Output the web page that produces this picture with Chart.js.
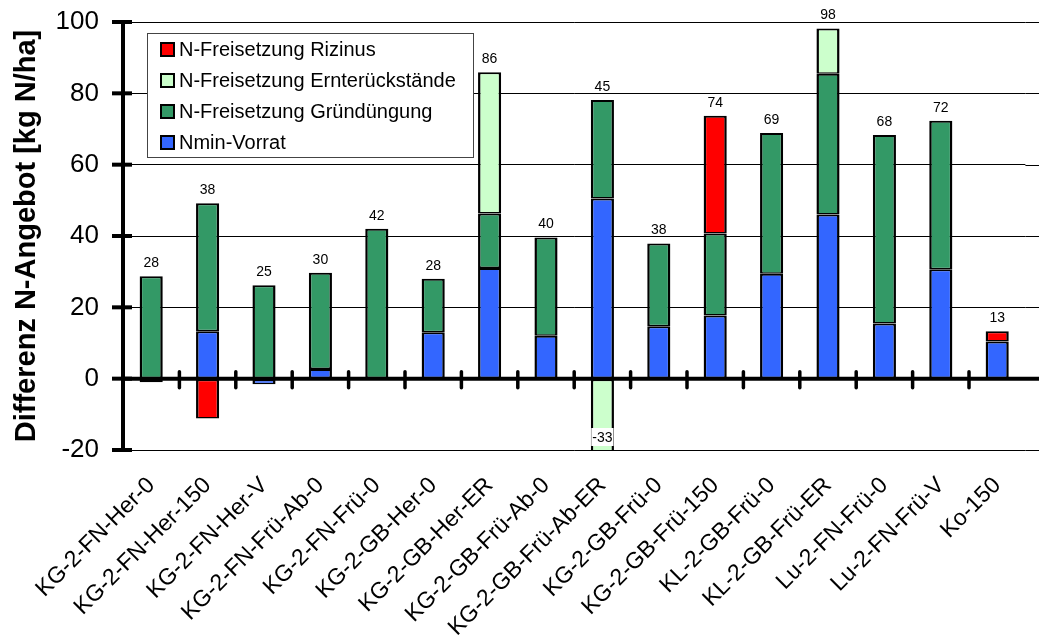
<!DOCTYPE html>
<html>
<head>
<meta charset="utf-8">
<script src="https://cdn.jsdelivr.net/npm/chart.js@4.4.0/dist/chart.umd.min.js"></script>
<style>
html, body { margin: 0; padding: 0; background: #fff; }
#wrap { width: 1039px; height: 639px; }
</style>
</head>
<body>
<div id="wrap"><canvas id="grafico-n"></canvas></div>
<script>
const kategorien = ['KG-2-FN-Her-0', 'KG-2-FN-Her-150', 'KG-2-FN-Her-V', 'KG-2-FN-Frü-Ab-0',
    'KG-2-FN-Frü-0', 'KG-2-GB-Her-0', 'KG-2-GB-Her-ER', 'KG-2-GB-Frü-Ab-0', 'KG-2-GB-Frü-Ab-ER',
    'KG-2-GB-Frü-0', 'KG-2-GB-Frü-150', 'KL-2-GB-Frü-0', 'KL-2-GB-Frü-ER', 'Lu-2-FN-Frü-0',
    'Lu-2-FN-Frü-V', 'Ko-150'];
const nminVorrat        = [-1, 13.3, -1.6, 2.7, null, 13, 31, 12, 50.5, 14.7, 17.7, 29.4, 46, 15.5, 30.7, 10.4];
const gruenduengung     = [28.7, 35.9, 26.2, 27, 42, 15, 15.3, 27.6, 27.6, 23.2, 23, 39.5, 39.5, 52.8, 41.6, null];
const ernterueckstaende = [null, null, null, null, null, null, 39.6, null, -33, null, null, null, 12.7, null, null, null];
const rizinus           = [null, -11.2, null, null, null, null, null, null, null, null, 33, null, null, null, null, 2.9];
const yMin = -20, yMax = 100, yStep = 20;

const schrift = '"Liberation Sans", Arial, sans-serif';

// Achsen, Nulllinie und Teilstriche wie im Original
const achsenPlugin = {
    id: 'achsen',
    beforeDatasetsDraw(chart) {
        const ctx = chart.ctx, y = chart.scales.y, a = chart.chartArea;
        ctx.save();
        ctx.strokeStyle = '#000';
        ctx.lineWidth = 1;
        y.ticks.forEach(function(t) {
            const py = Math.round(y.getPixelForValue(t.value)) + 0.5;
            ctx.beginPath();
            ctx.moveTo(a.right, py);
            ctx.lineTo(chart.width, py);
            ctx.stroke();
        });
        ctx.restore();
    },
    afterDatasetsDraw(chart) {
        const ctx = chart.ctx, x = chart.scales.x, y = chart.scales.y, a = chart.chartArea;
        const y0 = y.getPixelForValue(0);
        ctx.save();
        ctx.strokeStyle = '#000';
        // y-Achse
        ctx.lineWidth = 4;
        ctx.beginPath();
        ctx.moveTo(a.left, a.top - 2);
        ctx.lineTo(a.left, a.bottom + 2);
        ctx.stroke();
        // Nulllinie
        ctx.beginPath();
        ctx.moveTo(a.left, y0);
        ctx.lineTo(chart.width, y0);
        ctx.stroke();
        ctx.lineCap = 'round';
        ctx.lineWidth = 3.5;
        for (let i = 1; i < kategorien.length; i++) {
            const px = (x.getPixelForValue(i - 1) + x.getPixelForValue(i)) / 2;
            ctx.beginPath();
            ctx.moveTo(px, y0 - 7);
            ctx.lineTo(px, y0 + 9);
            ctx.stroke();
        }
        ctx.lineCap = 'butt';
        ctx.lineWidth = 4;
        y.ticks.forEach(function(t) {
            const py = y.getPixelForValue(t.value);
            ctx.beginPath();
            ctx.moveTo(a.left - 11, py);
            ctx.lineTo(a.left + 9, py);
            ctx.stroke();
        });

        // Summenwerte über den Säulen
        ctx.fillStyle = '#000';
        ctx.font = '14px ' + schrift;
        ctx.textAlign = 'center';
        ctx.textBaseline = 'alphabetic';
        kategorien.forEach(function(k, i) {
            let summe = 0, positiv = 0;
            chart.data.datasets.forEach(function(ds) {
                const v = ds.data[i] || 0;
                summe += v;
                if (v > 0) positiv += v;
            });
            const px = x.getPixelForValue(i);
            ctx.fillText(String(Math.round(summe)), px, y.getPixelForValue(positiv) - 9);
        });

        // abgeschnittene Segmente unten beschriften
        ctx.textBaseline = 'middle';
        chart.data.datasets.forEach(function(ds, di) {
            const meta = chart.getDatasetMeta(di);
            meta.data.forEach(function(el, i) {
                const v = ds.data[i];
                if (v !== null && v < 0 && Math.max(el.y, el.base) > a.bottom) {
                    const txt = String(Math.round(v));
                    const w = ctx.measureText(txt).width + 2;
                    const cy = a.bottom - 13;
                    ctx.fillStyle = '#fff';
                    ctx.fillRect(el.x - w / 2, cy - 9, w, 18);
                    ctx.fillStyle = '#000';
                    ctx.fillText(txt, el.x, cy + 1);
                }
            });
        });
        ctx.restore();
    },
    afterDraw(chart) {
        // Legende im Diagramm
        const ctx = chart.ctx, a = chart.chartArea;
        const bx = a.left + 24, by = a.top + 11, bw = 326, bh = 124;
        ctx.save();
        ctx.fillStyle = '#fff';
        ctx.fillRect(bx, by, bw, bh);
        ctx.strokeStyle = '#444';
        ctx.lineWidth = 1;
        ctx.strokeRect(bx + 0.5, by + 0.5, bw, bh);
        ctx.font = '20px ' + schrift;
        ctx.textBaseline = 'middle';
        ctx.textAlign = 'left';
        const ds = chart.data.datasets.slice().reverse();
        ds.forEach(function(d, i) {
            const cy = by + 16.5 + i * 31;
            ctx.fillStyle = d.backgroundColor;
            ctx.fillRect(bx + 14, cy - 6.5, 13, 13);
            ctx.strokeStyle = '#000';
            ctx.lineWidth = 2;
            ctx.strokeRect(bx + 14, cy - 6.5, 13, 13);
            ctx.fillStyle = '#000';
            ctx.fillText(d.label, bx + 32, cy + 1);
        });
        ctx.restore();
    }
};

function serie(label, data, farbe) {
    return {
        label: label,
        data: data,
        backgroundColor: farbe,
        borderColor: '#000',
        borderWidth: { top: 2, bottom: 1.5, left: 2.5, right: 2.5 },
        borderSkipped: false,
        categoryPercentage: 1,
        barPercentage: 0.41
    };
}

const ctx = document.getElementById('grafico-n').getContext('2d');
const grafico = new Chart(ctx, {
    type: 'bar',
    data: {
        labels: kategorien,
        datasets: [
            serie('Nmin-Vorrat', nminVorrat, '#3366FF'),
            serie('N-Freisetzung Gründüngung', gruenduengung, '#339966'),
            serie('N-Freisetzung Ernterückstände', ernterueckstaende, '#CCFFCC'),
            serie('N-Freisetzung Rizinus', rizinus, '#FF0000')
        ]
    },
    options: {
        responsive: true,
        maintainAspectRatio: false,
        devicePixelRatio: 1,
        animation: false,
        layout: { padding: { top: 22, right: 9, left: 0, bottom: 0 } },
        plugins: {
            legend: { display: false },
            tooltip: { enabled: false }
        },
        scales: {
            x: {
                stacked: true,
                grid: { display: false, drawTicks: false },
                border: { display: false },
                ticks: {
                    autoSkip: false,
                    maxRotation: 45,
                    minRotation: 45,
                    padding: 22,
                    color: '#000',
                    font: { family: schrift, size: 23 }
                },
                afterFit: function(s) { s.height = 189; }
            },
            y: {
                stacked: true,
                min: yMin,
                max: yMax,
                ticks: {
                    stepSize: yStep,
                    padding: 24,
                    color: '#000',
                    font: { family: schrift, size: 26 }
                },
                grid: { color: '#000', lineWidth: 1, drawTicks: false },
                border: { display: false },
                title: {
                    display: true,
                    text: 'Differenz N-Angebot [kg N/ha]',
                    color: '#000',
                    font: { family: schrift, size: 29, weight: 'bold' },
                    padding: { top: 10, bottom: 0 }
                },
                afterFit: function(s) {
                    s.width = 123;
                    s.paddingTop = 0;
                    s.paddingBottom = 0;
                }
            }
        }
    },
    plugins: [achsenPlugin]
});
</script>
</body>
</html>
